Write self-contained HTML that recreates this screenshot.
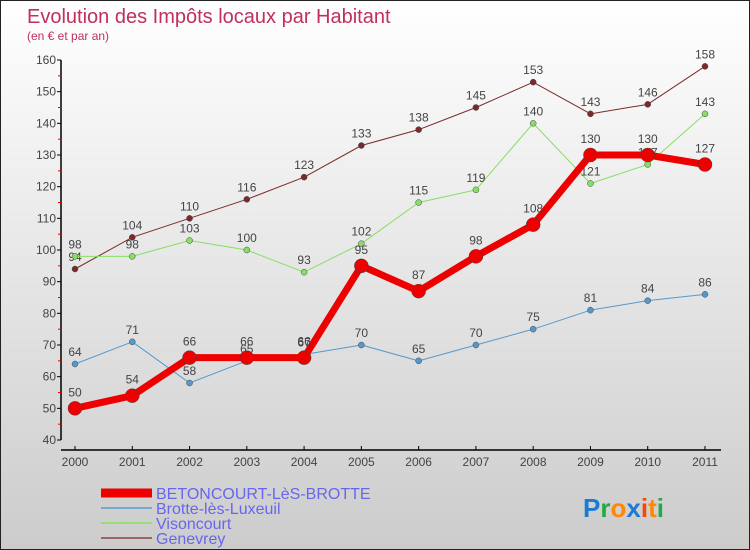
<!DOCTYPE html>
<html><head><meta charset="utf-8"><style>
body{margin:0}
#c{width:748px;height:548px;border:1px solid #222;background:linear-gradient(#fff,#ccc);position:relative;overflow:hidden;font-family:"Liberation Sans",sans-serif}
</style></head><body>
<div id="c">
<svg id="s" width="748" height="548">
<text x="26" y="22" font-size="20" fill="#c0305a">Evolution des Impôts locaux par Habitant</text>
<text x="26" y="39" font-size="12" fill="#c0305a">(en € et par an)</text>
</svg>
</div>
<script>
const years=[2000,2001,2002,2003,2004,2005,2006,2007,2008,2009,2010,2011];
const yTicks=[40,50,60,70,80,90,100,110,120,130,140,150,160];
const betoncourt=[50,54,66,66,66,95,87,98,108,130,130,127];
const brotte=[64,71,58,65,67,70,65,70,75,81,84,86];
const visoncourt=[98,98,103,100,93,102,115,119,140,121,127,143];
const genevrey=[94,104,110,116,123,133,138,145,153,143,146,158];
const svg=document.getElementById('s');const NS='http://www.w3.org/2000/svg';
const xs=i=>74+i*(630/11);const ys=v=>439-(v-40)*(380/120);
function mk(t,a,p){const e=document.createElementNS(NS,t);for(const k in a)e.setAttribute(k,a[k]);(p||svg).appendChild(e);return e;}
const ax=mk('g',{});
mk('line',{x1:60,y1:59,x2:60,y2:439,stroke:'#000','stroke-width':1.5},ax);
mk('line',{x1:60,y1:449,x2:720,y2:449,stroke:'#000','stroke-width':1.5},ax);
yTicks.forEach(v=>{mk('line',{x1:56,y1:ys(v),x2:60,y2:ys(v),stroke:'#000'},ax);
 if(v<160)mk('line',{x1:57,y1:ys(v+5),x2:60,y2:ys(v+5),stroke:'#e00'},ax);
 const t=mk('text',{x:55,y:ys(v)+4,'text-anchor':'end','font-size':12,fill:'#444'},ax);t.textContent=v;
 });
years.forEach((y,i)=>{mk('line',{x1:xs(i),y1:445,x2:xs(i),y2:449,stroke:'#000'},ax);
 const t=mk('text',{x:xs(i),y:465,'text-anchor':'middle','font-size':12,fill:'#444'},ax);t.textContent=y;
 });
function series(d,col,w,r,name,lblOff){const g=mk('g',{});
 mk('polyline',{points:d.map((v,i)=>xs(i)+','+ys(v)).join(' '),fill:'none',stroke:col,'stroke-width':w,'stroke-linejoin':'round'},g);
 d.forEach((v,i)=>{const c=mk('circle',{cx:xs(i),cy:ys(v),r:r,fill:col,stroke:'#444','stroke-width':0.5},g);
  
  const t=mk('text',{x:xs(i),y:ys(v)-lblOff,'text-anchor':'middle','font-size':12,fill:'#444'},g);t.textContent=v;});}
series(genevrey,'#7a2a2a',1,3,'series-genevrey',8);
series(visoncourt,'#88dd66',1,3,'series-visoncourt',8);
series(brotte,'#5599cc',1,3,'series-brotte',8);
series(betoncourt,'#ee0000',7,7,'series-betoncourt',12);
const leg=[['BETONCOURT-LèS-BROTTE','#ee0000',9],['Brotte-lès-Luxeuil','#77aacc',2],['Visoncourt','#99dd77',2],['Genevrey','#996666',2]];
leg.forEach((l,i)=>{const y=492+i*15;const g=mk('g',{});
 mk('line',{x1:100,y1:y,x2:151,y2:y,stroke:l[1],'stroke-width':l[2]},g);
 const t=mk('text',{x:155,y:y+6,'font-size':16,fill:'#6666ee'},g);t.textContent=l[0];});
const lg=mk('text',{x:582,y:516,'font-size':26,'font-weight':'bold'});
[['P','#1a7ad4'],['r','#22aa44'],['o','#ff8800'],['x','#1a7ad4'],['i','#ff4400'],['t','#ff8800'],['i','#22aa44']].forEach(c=>{const s=mk('tspan',{fill:c[1]},lg);s.textContent=c[0];});
</script>
</body></html>
